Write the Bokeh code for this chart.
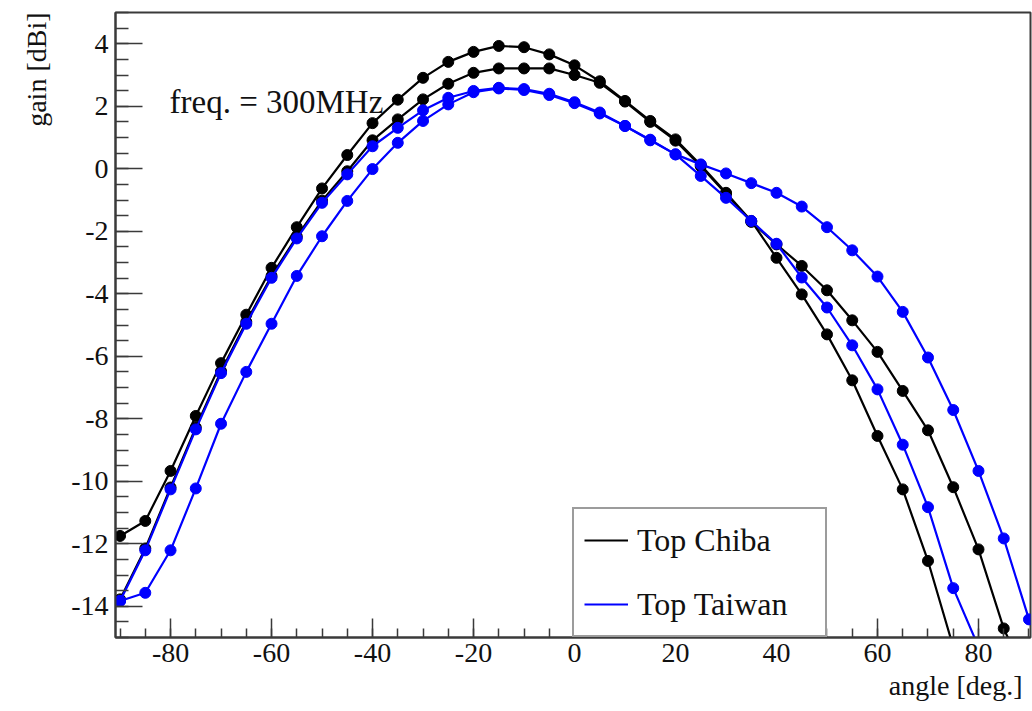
from bokeh.plotting import figure
from bokeh.models import (Range1d, FixedTicker, Label, Legend, LegendItem, ColumnDataSource,
                          PrintfTickFormatter, Title)
from bokeh.embed import file_html
from bokeh.resources import INLINE

nan = float("nan")

# ---- data ----
angles = [-90, -85, -80, -75, -70, -65, -60, -55, -50, -45, -40, -35, -30, -25, -20, -15, -10, -5,
          0, 5, 10, 15, 20, 25, 30, 35, 40, 45, 50, 55, 60, 65, 70, 75, 80, 85, 90]

chiba_a = [-11.75, -11.27, -9.67, -7.91, -6.22, -4.67, -3.17, -1.87, -0.63, 0.44, 1.46, 2.21, 2.91,
           3.42, 3.74, 3.93, 3.89, 3.66, 3.31, 2.80, 2.17, 1.53, 0.94, 0.12, -0.77, -1.67, -2.85,
           -4.02, -5.30, -6.77, -8.55, -10.26, -12.55, -15.3, nan, nan, nan]

chiba_b = [-13.78, -12.15, -10.20, -8.28, -6.48, -4.90, -3.43, -2.17, -1.02, -0.08, 0.91, 1.58, 2.22,
           2.72, 3.07, 3.21, 3.21, 3.21, 3.00, 2.75, 2.15, 1.50, 0.90, 0.08, -0.80, -1.70, -2.42,
           -3.11, -3.89, -4.85, -5.86, -7.11, -8.37, -10.19, -12.18, -14.71, -16.5]

taiwan_a = [-13.83, -12.21, -10.26, -8.34, -6.54, -4.96, -3.49, -2.23, -1.09, -0.18, 0.72, 1.31, 1.87,
            2.27, 2.49, 2.59, 2.55, 2.40, 2.13, 1.80, 1.37, 0.91, 0.46, -0.23, -0.93, -1.67, -2.40,
            -3.48, -4.44, -5.65, -7.06, -8.83, -10.83, -13.42, -15.3, nan, nan]

taiwan_b = [-13.83, -13.57, -12.21, -10.23, -8.16, -6.50, -4.96, -3.43, -2.16, -1.03, -0.01, 0.83, 1.53,
            2.06, 2.45, 2.57, 2.52, 2.36, 2.10, 1.77, 1.37, 0.93, 0.46, 0.14, -0.15, -0.46, -0.77,
            -1.21, -1.87, -2.61, -3.45, -4.58, -6.04, -7.72, -9.67, -11.83, -14.42]

x_ticks = [-80, -60, -40, -20, 0, 20, 40, 60, 80]
y_ticks = [-14, -12, -10, -8, -6, -4, -2, 0, 2, 4]
legend_labels = ["Top Chiba", "Top Taiwan"]
annotation_text = "freq. = 300MHz"
x_title = "angle [deg.]"
y_title = "gain [dBi]"

FONT = "Liberation Serif"
BLACK = "#000000"
BLUE = "#0000ff"
FRAME = "#3a3a3a"
TEXT = "#111111"

p = figure(width=1032, height=711, output_backend="svg", toolbar_location=None,
           x_range=Range1d(-90.9, 90.3), y_range=Range1d(-15, 5),
           min_border_left=115, min_border_right=2, min_border_top=12, min_border_bottom=74)
p.grid.visible = False
p.background_fill_color = "white"
p.border_fill_color = "white"
p.outline_line_color = FRAME
p.outline_line_width = 2

src = ColumnDataSource(dict(x=angles, ca=chiba_a, cb=chiba_b, ta=taiwan_a, tb=taiwan_b))

r_black = None
for col in ["cb", "ca"]:
    r = p.line("x", col, source=src, line_color=BLACK, line_width=2.2)
    p.scatter("x", col, source=src, size=11, fill_color=BLACK, line_color=BLACK)
    r_black = r
r_blue = None
for col in ["tb", "ta"]:
    r = p.line("x", col, source=src, line_color=BLUE, line_width=2.2)
    p.scatter("x", col, source=src, size=11, fill_color=BLUE, line_color=BLUE)
    r_blue = r

# axes
x_minor = [v for v in range(-90, 91, 5)]
y_minor = [v / 2 for v in range(-30, 11)]
p.xaxis.ticker = FixedTicker(ticks=x_ticks, minor_ticks=x_minor)
p.yaxis.ticker = FixedTicker(ticks=y_ticks, minor_ticks=y_minor)
p.xaxis.formatter = PrintfTickFormatter(format="%d")
p.yaxis.formatter = PrintfTickFormatter(format="%d")

for ax in (p.xaxis[0], p.yaxis[0]):
    ax.axis_line_color = FRAME
    ax.axis_line_width = 2
    ax.major_tick_line_color = FRAME
    ax.minor_tick_line_color = FRAME
    ax.major_tick_line_width = 1.5
    ax.minor_tick_line_width = 1.5
    ax.major_tick_out = 0
    ax.minor_tick_out = 0
    ax.major_label_text_font = FONT
    ax.major_label_text_font_size = "28px"
    ax.major_label_text_color = TEXT

p.xaxis.major_tick_in = 19
p.xaxis.minor_tick_in = 9
p.yaxis.major_tick_in = 27
p.yaxis.minor_tick_in = 13
p.xaxis.major_label_standoff = 6
p.yaxis.major_label_standoff = 7

# axis titles, ROOT style (aligned to the axis ends)
p.add_layout(Title(text=x_title, align="right", offset=8, standoff=6,
                   text_font=FONT, text_font_size="28px", text_font_style="normal",
                   text_color=TEXT), "below")
p.add_layout(Title(text=y_title, align="right", offset=0, standoff=34,
                   text_font=FONT, text_font_size="28px", text_font_style="normal",
                   text_color=TEXT), "left")

p.add_layout(Label(x=-80.2, y=2.14, text=annotation_text, text_font=FONT,
                   text_font_size="33px", text_color=TEXT, text_baseline="alphabetic"))

legend = Legend(items=[LegendItem(label=legend_labels[0], renderers=[r_black]),
                       LegendItem(label=legend_labels[1], renderers=[r_blue])],
                location=(457, 0), orientation="vertical", padding=10, spacing=22, margin=0,
                glyph_width=44, glyph_height=42, label_height=42, label_width=178,
                label_standoff=9, label_text_font=FONT, label_text_font_size="32px",
                label_text_color=TEXT,
                border_line_color=FRAME, border_line_width=2,
                background_fill_color="white", background_fill_alpha=1)
p.add_layout(legend)

open("out.html", "w").write(file_html(p, INLINE))
